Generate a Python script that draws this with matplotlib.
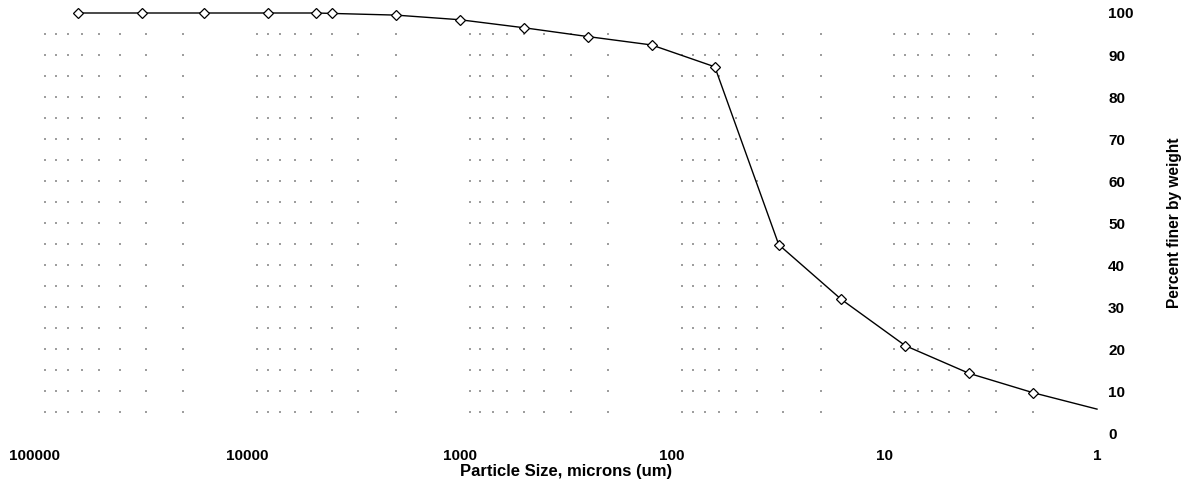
import numpy as np
import matplotlib.pyplot as plt
from matplotlib.ticker import LogLocator, FixedLocator, NullFormatter

# particle size (microns) vs percent finer by weight
size_um = [63000, 31500, 16000, 8000, 4750, 4000, 2000, 1000, 500, 250, 125, 63,
           31.5, 16, 8, 4, 2, 1]
pct_finer = [100, 100, 100, 100, 100, 99.9, 99.5, 98.4, 96.5, 94.4, 92.4, 87.2,
             44.9, 31.9, 20.9, 14.3, 9.7, 5.8]

x_ticks = [100000, 10000, 1000, 100, 10, 1]
x_tick_labels = ["100000", "10000", "1000", "100", "10", "1"]
y_ticks = list(range(0, 101, 10))

plt.rcParams['font.family'] = ['Liberation Sans', 'DejaVu Sans']

fig = plt.figure(figsize=(11.87, 4.99), dpi=100)
ax = fig.add_axes([35 / 1187, 1 - 433.5 / 499, (1097 - 35) / 1187, (433.5 - 13) / 499])

ax.set_xscale('log')
ax.set_xlim(100000, 1)
ax.set_ylim(0, 100)

# sparse dotted grid: dots at minor log ticks x every 5 percent
grid_x = LogLocator(base=10, subs=np.arange(2, 10)).tick_values(1, 100000)
grid_x = [g for g in grid_x if 1 < g < 100000]
grid_y = np.arange(5, 100, 5)
gx, gy = np.meshgrid(grid_x, grid_y)
ax.scatter(gx.ravel(), gy.ravel(), s=1.0, marker='s', color='0.62', linewidths=0, zorder=1)

ax.plot(size_um, pct_finer, color='black', lw=1.0, zorder=2, clip_on=False)
ax.plot(size_um[:-1], pct_finer[:-1], linestyle='none', marker='D', markersize=5,
        markerfacecolor='white', markeredgecolor='black', markeredgewidth=0.9,
        zorder=3, clip_on=False)

for sp in ax.spines.values():
    sp.set_visible(False)

ax.xaxis.set_major_locator(FixedLocator(x_ticks))
ax.xaxis.set_minor_formatter(NullFormatter())
ax.set_xticks(x_ticks)
ax.set_xticklabels(x_tick_labels)
ax.tick_params(axis='x', which='both', length=0, pad=11, labelsize=11)
for t in ax.get_xticklabels():
    t.set_fontweight('bold')

ax.yaxis.tick_right()
ax.yaxis.set_label_position('right')
ax.set_yticks(y_ticks)
ax.tick_params(axis='y', length=0, pad=8, labelsize=11)
for t in ax.get_yticklabels():
    t.set_fontweight('bold')

ax.set_xlabel('Particle Size, microns (um)', fontsize=12, fontweight='bold', labelpad=1)
ax.set_ylabel('Percent finer by weight', fontsize=11.2, fontweight='bold', labelpad=24)

fig.savefig('out.png', dpi=100)
